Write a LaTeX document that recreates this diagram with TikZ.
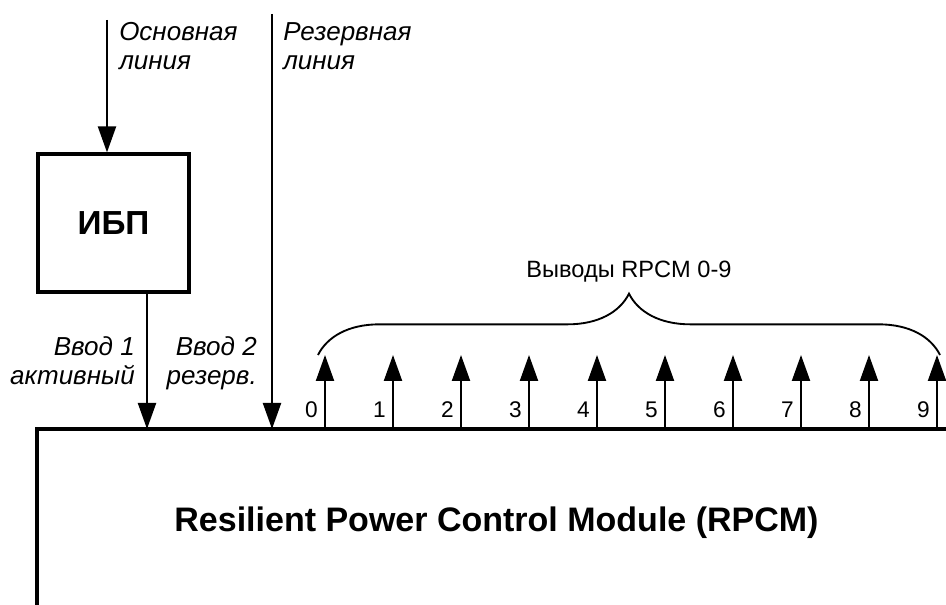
\documentclass[tikz,border=0pt]{standalone}
\usepackage{fontspec}
\setmainfont{Liberation Sans}
\usetikzlibrary{arrows.meta,positioning,decorations.pathreplacing}

\begin{document}
\begin{tikzpicture}[x=0.75pt,y=-0.75pt,
        wire/.style={line width=1.6pt,-{Triangle[length=19.5pt,width=13.5pt]}},
        lbl/.style={inner sep=0pt,font=\itshape\fontsize{19.5}{21.75}\selectfont},
        num/.style={inner sep=0pt,font=\fontsize{17}{20}\selectfont}]
        \def\N{9}
        \useasboundingbox (0,0) rectangle (946,605);
        % RPCM
        \draw [line width=2.4pt] (37,605) -- (37,429) -- (946,429);
        \node [anchor=base,inner sep=0pt,font=\bfseries\fontsize{25.5}{30}\selectfont] (rpcm) at (496.5,532) {Resilient Power Control Module (RPCM)};
        % UPS
        \node [draw,line width=2.4pt,minimum width=113.25pt,minimum height=103.5pt,font=\bfseries\fontsize{25}{28}\selectfont] (ups) at (113.5,223) {ИБП};
        % inputs
        \coordinate (mainsrc) at (107,20);
        \coordinate (ressrc) at (272,14);
        \coordinate (in1) at (147,429);
        \coordinate (in2) at (272,429);
        \draw [wire] (mainsrc) -- (mainsrc |- ups.north);
        \draw [wire] (ups.south -| in1) -- (in1);
        \draw [wire] (ressrc) -- (in2);
        \node [lbl,anchor=north west,align=left] (mainlbl) at (119,22) {Основная\\линия};
        \node [lbl,anchor=north west,align=left] (reslbl) at (283,22) {Резервная\\линия};
        \node [lbl,anchor=north east,align=right] (in1lbl) at (135,336) {Ввод 1\\активный};
        \node [lbl,anchor=north east,align=right] (in2lbl) at (257,336) {Ввод 2\\резерв.};
        % outputs
        \foreach \i in {0,...,\N} {
            \coordinate (out\i) at ({325+68*\i},429);
            \coordinate (tip\i) at ({325+68*\i},355);
            \draw [wire] (out\i) -- (tip\i);
            \node [num,anchor=base east] (num\i) at ({318+68*\i},418) {\i};
        }
        \draw [line width=1.4pt,decorate,decoration={brace,amplitude=46pt}] (318,355) -- (940,355);
        \node [font=\fontsize{17.7}{20}\selectfont] (outlbl) at (629,272) {Выводы RPCM 0-9};
    \end{tikzpicture}
\end{document}
